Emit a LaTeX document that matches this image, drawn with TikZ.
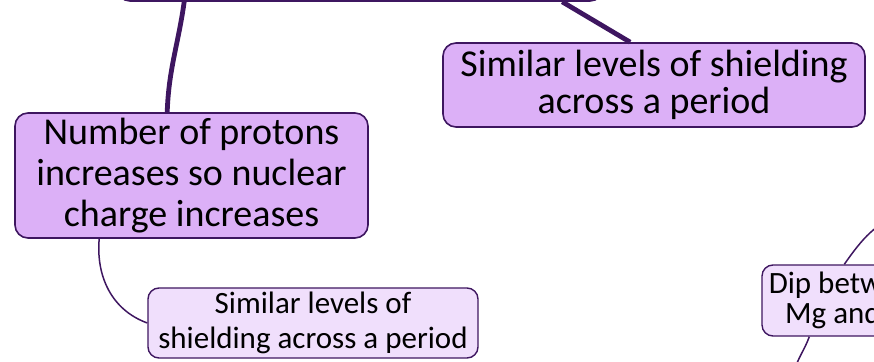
\documentclass[tikz,border=0pt]{standalone}
\usepackage{fontspec}
\setmainfont{Carlito}
\usetikzlibrary{calc}
\definecolor{edge}{RGB}{62,22,96}
\definecolor{midfill}{RGB}{220,176,247}
\definecolor{lightfill}{RGB}{240,223,252}
\tikzset{
  mainbox/.style={draw=edge, line width=1.6pt, fill=midfill, rounded corners=13pt, inner sep=0pt, align=center},
  subbox/.style={draw=edge, line width=1.4pt, fill=lightfill, rounded corners=11pt, inner sep=0pt, align=center, font=\fontsize{31}{35}\selectfont},
  thickwire/.style={draw=edge, line width=4.8pt},
  thinwire/.style={draw=edge, line width=1.5pt}
}
\begin{document}
\begin{tikzpicture}[x=1pt,y=-1pt]
\useasboundingbox (0,0) rectangle (874,361);
\node[mainbox, minimum width=486pt, minimum height=61pt] (root) at (360,-29.5) {};
\node[mainbox, minimum width=422pt, minimum height=84pt, font=\fontsize{38}{37}\selectfont] (shield) at (654,85) {Similar levels of shielding\\across a period};
\node[mainbox, minimum width=353pt, minimum height=125pt, font=\fontsize{38}{41}\selectfont] (protons) at (191.5,175.5) {Number of protons\\increases so nuclear\\charge increases};
\node[subbox, minimum width=330pt, minimum height=70pt] (shieldsub) at (313,323) {Similar levels of\\shielding across a period};
\node[subbox, minimum width=174pt, minimum height=71pt, font=\fontsize{31}{30}\selectfont] (dip) at (849,300.5) {Dip between\\Mg and Al};
\coordinate (dipup) at (905,212);
\coordinate (dipdown) at (794,372);
\draw[thickwire] ([xshift=68pt]root.south west) to[out=-98,in=88] ([xshift=153pt]protons.north west);
\draw[thickwire] ([xshift=446pt]root.south west) -- ([xshift=188pt]shield.north west);
\draw[thinwire] ([xshift=85pt]protons.south west) to[out=-95,in=160] (shieldsub.west);
\draw[thinwire] ([xshift=83pt]dip.north west) to[out=55,in=200] (dipup);
\draw[thinwire] ([xshift=48pt]dip.south west) to[out=-110,in=75] (dipdown);
\end{tikzpicture}
\end{document}
